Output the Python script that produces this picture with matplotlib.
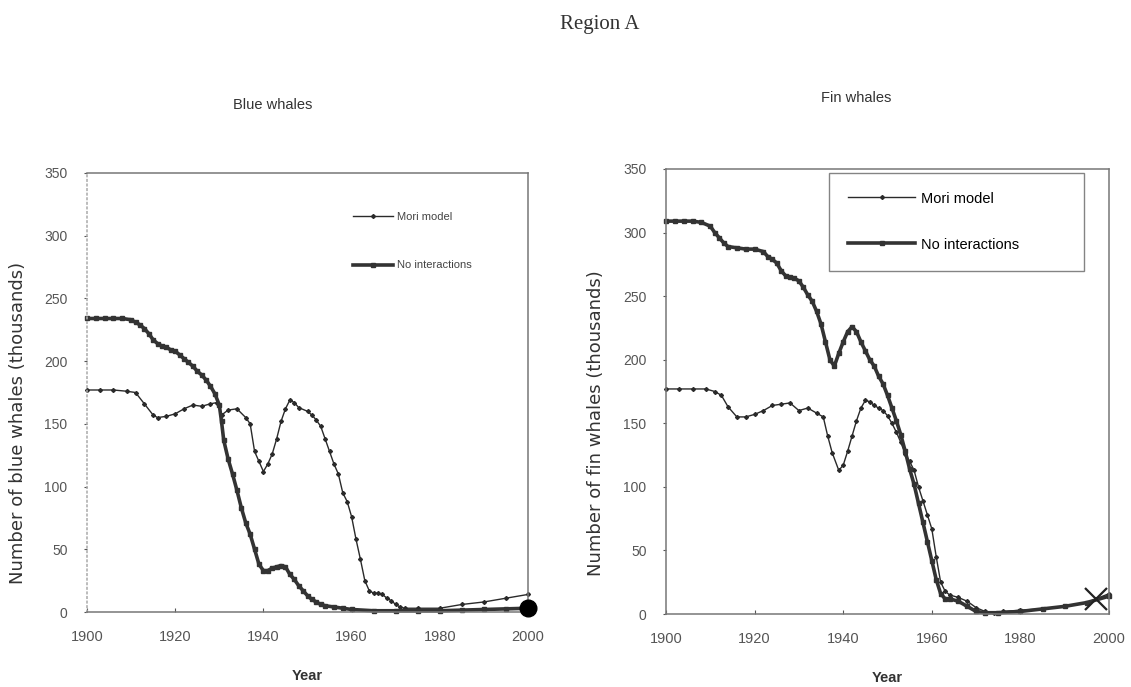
import matplotlib
matplotlib.use("Agg")
import matplotlib.pyplot as plt

# ---------------- data ----------------
blue_mori_years = [1900, 1903, 1906, 1909, 1911, 1913, 1915, 1916, 1918, 1920, 1922, 1924, 1926, 1928,
                   1929.5, 1930.5, 1932, 1934, 1936, 1937, 1938, 1939, 1940, 1941, 1942, 1943, 1944,
                   1945, 1946, 1947, 1948, 1950, 1951, 1952, 1953, 1954, 1955, 1956, 1957, 1958, 1959,
                   1960, 1961, 1962, 1963, 1964, 1965, 1966, 1967, 1968, 1969, 1970, 1971, 1972, 1975,
                   1980, 1985, 1990, 1995, 2000]
blue_mori = [177, 177, 177, 176, 175, 166, 157, 155, 156, 158, 162, 165, 164, 166,
             167, 157, 161, 162, 155, 150, 128, 120, 112, 118, 126, 138, 152,
             162, 169, 167, 163, 160, 157, 153, 148, 138, 128, 118, 110, 95, 88,
             76, 58, 42, 25, 17, 15, 15, 14, 11, 9, 6, 4, 3, 3,
             3, 6, 8, 11, 14]

blue_noint_years = [1900, 1902, 1904, 1906, 1908, 1910, 1911, 1912, 1913, 1914, 1915, 1916, 1917, 1918,
                    1919, 1920, 1921, 1922, 1923, 1924, 1925, 1926, 1927, 1928, 1929, 1930, 1930.5,
                    1931, 1932, 1933, 1934, 1935, 1936, 1937, 1938, 1939, 1940, 1941, 1942, 1943,
                    1944, 1945, 1946, 1947, 1948, 1949, 1950, 1951, 1952, 1953, 1954, 1956, 1958,
                    1960, 1965, 1970, 1975, 1980, 1985, 1990, 1995, 2000]
blue_noint = [234, 234, 234, 234, 234, 233, 231, 229, 226, 222, 217, 214, 212, 211,
              209, 208, 205, 202, 199, 196, 192, 189, 185, 180, 174, 165, 152,
              137, 122, 110, 97, 83, 71, 62, 50, 38, 33, 33, 35, 36,
              37, 36, 30, 26, 21, 17, 13, 10, 8, 6, 5, 4, 3,
              2, 1, 1, 1, 1, 1.5, 2, 2.5, 3]

fin_mori_years = [1900, 1903, 1906, 1909, 1911, 1912.5, 1914, 1916, 1918, 1920, 1922, 1924, 1926, 1928,
                  1930, 1932, 1934, 1935.5, 1936.5, 1937.5, 1939, 1940, 1941, 1942, 1943, 1944, 1945,
                  1946, 1947, 1948, 1949, 1950, 1951, 1952, 1953, 1954, 1955, 1956, 1957, 1958, 1959,
                  1960, 1961, 1962, 1963, 1964, 1966, 1968, 1970, 1972, 1974, 1976, 1980, 1985, 1990,
                  1995, 2000]
fin_mori = [177, 177, 177, 177, 175, 172, 163, 155, 155, 157, 160, 164, 165, 166,
            160, 162, 158, 155, 140, 127, 113, 117, 128, 140, 152, 162, 168,
            167, 164, 162, 160, 156, 150, 143, 135, 126, 120, 113, 100, 89, 78,
            67, 45, 25, 18, 15, 13, 10, 5, 2, 1, 2, 3, 4, 6,
            9, 16]

fin_noint_years = [1900, 1902, 1904, 1906, 1908, 1910, 1911, 1912, 1913, 1914, 1916, 1918, 1920, 1922,
                   1923, 1924, 1925, 1926, 1927, 1928, 1929, 1930, 1931, 1932, 1933, 1934, 1935, 1936,
                   1937, 1938, 1939, 1940, 1941, 1942, 1943, 1944, 1945, 1946, 1947, 1948, 1949, 1950,
                   1951, 1952, 1953, 1954, 1955, 1956, 1957, 1958, 1959, 1960, 1961, 1962, 1963, 1964,
                   1966, 1968, 1970, 1972, 1975, 1980, 1985, 1990, 1995, 2000]
fin_noint = [309, 309, 309, 309, 308, 305, 300, 296, 292, 289, 288, 287, 287, 285,
             281, 279, 276, 270, 266, 265, 264, 262, 257, 251, 246, 238, 228, 214,
             200, 195, 205, 214, 222, 226, 222, 214, 207, 200, 195, 187, 181, 172,
             162, 152, 141, 128, 114, 102, 87, 72, 57, 42, 27, 16, 12, 12,
             10, 6, 2, 1, 1, 2, 4, 6, 9, 14]

blue_end_year, blue_end_value = [2000], [3]
fin_cross_year, fin_cross_value = [1997], [12]

x_ticks = [1900, 1920, 1940, 1960, 1980, 2000]
y_ticks = [0, 50, 100, 150, 200, 250, 300, 350]
series_labels = ["Mori model", "No interactions"]

# ---------------- figure ----------------
plt.rcParams['font.family'] = ['Liberation Sans', 'DejaVu Sans']
W, H = 1131, 687
fig = plt.figure(figsize=(W / 100, H / 100), dpi=100)

ink = "#2a2a2a"
tick_col = "#555555"


def px_axes(x0, y0, x1, y1):
    return fig.add_axes([x0 / W, 1 - y1 / H, (x1 - x0) / W, (y1 - y0) / H])


def style(ax, ylabel, label_x):
    ax.set_xlim(1900, 2000)
    ax.set_ylim(0, 350)
    ax.set_xticks(x_ticks)
    ax.set_yticks(y_ticks)
    ax.tick_params(axis='x', direction='in', length=3, pad=13, labelsize=10.5,
                   colors=tick_col, width=0.8)
    ax.tick_params(axis='y', direction='out', length=2, pad=12, labelsize=10,
                   colors=tick_col, width=0.8)
    for s in ax.spines.values():
        s.set_color("#777777")
        s.set_linewidth(1.1)
    ax.set_xlabel("Year", fontsize=10.5, fontweight='bold', color="#333333", labelpad=18)
    ax.set_ylabel(ylabel, fontsize=13, color="#333333", family=['DejaVu Sans'],
                  va='center')
    ax.yaxis.set_label_coords(label_x, 0.43)


# Blue whales
ax1 = px_axes(87, 173, 528, 612)
ax1.plot(blue_mori_years, blue_mori, color=ink, lw=1.0, marker='D', ms=2,
         label=series_labels[0], clip_on=False)
ax1.plot(blue_noint_years, blue_noint, color="#333333", lw=2.6, marker='s', ms=3.5,
         label=series_labels[1], clip_on=False)
ax1.plot(blue_end_year, blue_end_value, 'o', color='black', ms=12, clip_on=False, zorder=5)
style(ax1, "Number of blue whales (thousands)", -0.156)
ax1.spines['left'].set_linestyle((0, (1, 2)))
ax1.spines['left'].set_color("#aaaaaa")
ax1.set_title("Blue whales", fontsize=10.5, color="#333333", x=0.42, pad=46)
leg1 = ax1.legend(loc='upper left', bbox_to_anchor=(0.585, 0.93), frameon=False,
                  fontsize=8, labelspacing=3.5, handlelength=3.6, handletextpad=0.4,
                  borderpad=0.2)
for t in leg1.get_texts():
    t.set_color("#444444")

# Fin whales
ax2 = px_axes(666, 169, 1109, 614)
ax2.plot(fin_mori_years, fin_mori, color=ink, lw=1.0, marker='D', ms=2,
         label=series_labels[0], clip_on=False)
ax2.plot(fin_noint_years, fin_noint, color="#333333", lw=2.6, marker='s', ms=3.5,
         label=series_labels[1], clip_on=False)
ax2.plot(fin_cross_year, fin_cross_value, 'x', color='#222222', ms=16, mew=1.6,
         clip_on=False, zorder=5)
style(ax2, "Number of fin whales (thousands)", -0.158)
ax2.set_title("Fin whales", fontsize=10.5, color="#333333", x=0.43, pad=48)
leg2 = ax2.legend(loc='upper left', bbox_to_anchor=(0.368, 0.982, 0.576, 0.01),
                  mode='expand', frameon=True, fancybox=False, fontsize=10.5,
                  labelspacing=2.2, handlelength=4.6, handletextpad=0.4,
                  borderpad=1.3, borderaxespad=0)
leg2.get_frame().set_edgecolor("#666666")
leg2.get_frame().set_linewidth(1.0)

fig.text(600 / W, 1 - 25 / H, "Region A", ha='center', va='center', fontsize=15,
         family=['Liberation Serif', 'DejaVu Serif'], color="#333333")

fig.savefig("out.png", dpi=100, facecolor='white')
